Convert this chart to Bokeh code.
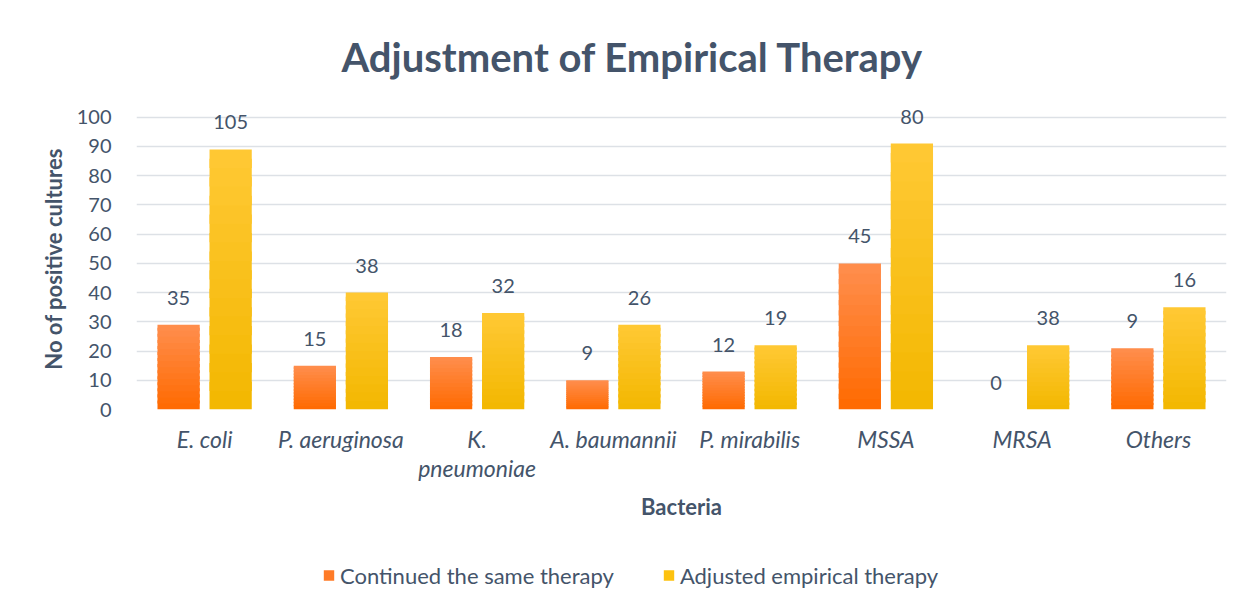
import json
from bokeh.plotting import figure
from bokeh.layouts import column
from bokeh.models import (ColumnDataSource, FactorRange, Range1d, LabelSet,
                          Legend, LegendItem, FixedTicker, CustomJSTickFormatter)
from bokeh.transform import dodge
from bokeh.core.properties import value
from bokeh.embed import file_html
from bokeh.resources import INLINE

# ---- data ----
bacteria = ["E. coli", "P. aeruginosa", "K. pneumoniae", "A. baumannii",
            "P. mirabilis", "MSSA", "MRSA", "Others"]
# bar heights as drawn on the value axis
continued_bar = [29, 15, 18, 10, 13, 50, 0, 21]
adjusted_bar = [89, 40, 33, 29, 22, 91, 22, 35]
# data labels printed above the bars
continued_lbl = [35, 15, 18, 9, 12, 45, 0, 9]
adjusted_lbl = [105, 38, 32, 26, 19, 80, 38, 16]
series_names = ["Continued the same therapy", "Adjusted empirical therapy"]
y_ticks = [0, 10, 20, 30, 40, 50, 60, 70, 80, 90, 100]
# category names that the axis wraps onto two lines
wrapped_labels = {"K. pneumoniae": "K.\npneumoniae"}

TXT = "#44546A"
FONT = "Lato"

W, HM, HL = 1240, 552, 46
p = figure(x_range=FactorRange(*bacteria), y_range=Range1d(0, 103),
           width=W, height=HM, output_backend="svg", toolbar_location=None,
           min_border_left=136, min_border_right=14, min_border_top=108,
           min_border_bottom=143)

p.title.text = "Adjustment of Empirical Therapy"
p.title.text_font = FONT
p.title.text_font_size = "40px"
p.title.text_font_style = "bold"
p.title.text_color = TXT
p.title.align = "left"
p.title.offset = 205
p.title.standoff = 56

p.outline_line_color = None
p.xgrid.grid_line_color = None
p.ygrid.grid_line_color = "#DDE1E6"
p.ygrid.grid_line_width = 1.5
p.ygrid.ticker = FixedTicker(ticks=y_ticks)

# axes
p.yaxis.ticker = FixedTicker(ticks=y_ticks)
p.yaxis.axis_line_color = None
p.yaxis.major_tick_line_color = None
p.yaxis.minor_tick_line_color = None
p.yaxis.major_label_standoff = 19
p.yaxis.major_label_text_font = FONT
p.yaxis.major_label_text_font_size = "20px"
p.yaxis.major_label_text_color = TXT
p.yaxis.axis_label = "No of positive cultures"
p.yaxis.axis_label_text_font = FONT
p.yaxis.axis_label_text_font_size = "22px"
p.yaxis.axis_label_text_font_style = "bold"
p.yaxis.axis_label_text_color = TXT
p.yaxis.axis_label_standoff = 7

p.xaxis.axis_line_color = None
p.xaxis.major_tick_line_color = None
p.xaxis.minor_tick_line_color = None
p.xaxis.major_label_standoff = 9
p.xaxis.major_label_text_font = FONT
p.xaxis.major_label_text_font_size = "23px"
p.xaxis.major_label_text_font_style = "italic"
p.xaxis.major_label_text_color = TXT
p.xaxis.major_label_text_line_height = 1.05
p.xaxis.formatter = CustomJSTickFormatter(
    code="const w = " + json.dumps(wrapped_labels) + "; return (tick in w) ? w[tick] : tick;")
p.xaxis.axis_label = "Bacteria"
p.xaxis.axis_label_text_font = FONT
p.xaxis.axis_label_text_font_size = "22px"
p.xaxis.axis_label_text_font_style = "bold"
p.xaxis.axis_label_text_color = TXT
p.xaxis.axis_label_standoff = 8

# ---- bars with a vertical gradient (overlapping slices of each bar) ----
N = 14
BAR_W = 0.31
OFF = 0.191


def lerp(c1, c2, t):
    a = [int(c1[i:i + 2], 16) for i in (1, 3, 5)]
    b = [int(c2[i:i + 2], 16) for i in (1, 3, 5)]
    return "#" + "".join(f"{round(a[k] + (b[k] - a[k]) * t):02x}" for k in range(3))


grad = {
    0: ("#FF6A00", "#FF8E4E"),   # bottom, top
    1: ("#F3B700", "#FFC935"),
}
for s, (vals, off) in enumerate([(continued_bar, -OFF), (adjusted_bar, OFF)]):
    c_bot, c_top = grad[s]
    for i in range(N):
        t = (i + 0.5) / N
        col = lerp(c_bot, c_top, t)
        src = ColumnDataSource(dict(
            cat=bacteria,
            bottom=[v * i / N for v in vals],
            top=[v * min(i + 1.5, N) / N for v in vals],
        ))
        p.vbar(x=dodge("cat", off, range=p.x_range), bottom="bottom", top="top",
               width=BAR_W, source=src, fill_color=col, line_color=None)

# ---- data labels ----
for vals, lbls, off in [(continued_bar, continued_lbl, -OFF), (adjusted_bar, adjusted_lbl, OFF)]:
    lsrc = ColumnDataSource(dict(cat=bacteria, y=vals, t=[str(v) for v in lbls]))
    p.add_layout(LabelSet(x=dodge("cat", off, range=p.x_range), y="y", text="t",
                          source=lsrc, y_offset=20, text_align="center",
                          text_baseline="alphabetic", text_font_size="20px",
                          text_font=value(FONT), text_color=TXT))

# ---- legend strip below the chart (its bars lie outside its own view) ----
p2 = figure(width=W, height=HL, output_backend="svg", toolbar_location=None,
            x_range=FactorRange(*bacteria), y_range=Range1d(200, 201),
            x_axis_location=None, y_axis_location=None,
            min_border_left=0, min_border_right=0, min_border_top=0, min_border_bottom=0)
p2.outline_line_color = None
p2.grid.visible = False
swatch_colors = ["#FF7B27", "#FDC20F"]
keys = []
for name, col, vals in zip(series_names, swatch_colors, [continued_bar, adjusted_bar]):
    ksrc = ColumnDataSource(dict(cat=bacteria, top=vals))
    r = p2.vbar(x="cat", top="top", width=BAR_W, source=ksrc,
                fill_color=col, line_color=None)
    keys.append(LegendItem(label=name, renderers=[r]))
legend = Legend(items=keys, orientation="horizontal", location="center_left",
                glyph_width=13, glyph_height=13, label_standoff=5, spacing=48,
                label_text_font=FONT, label_text_font_size="22px",
                label_text_color=TXT, border_line_color=None,
                background_fill_alpha=0, margin=186, padding=0)
p2.add_layout(legend, "center")

layout = column(p, p2, spacing=0)
open("out.html", "w").write(file_html(layout, INLINE))
